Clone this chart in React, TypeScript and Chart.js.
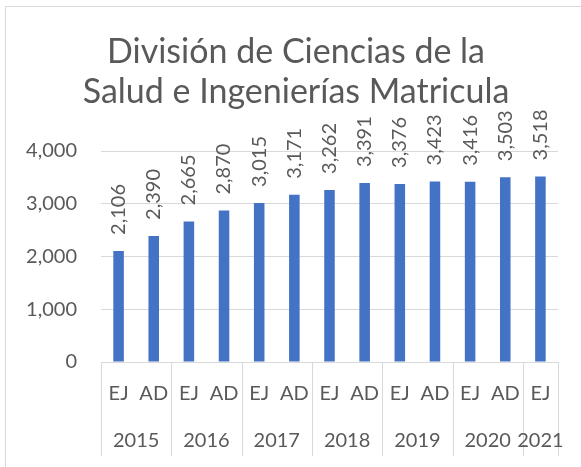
import { useEffect, useRef } from 'react';
import { Chart, registerables } from 'chart.js';

Chart.register(...registerables);

const titleLines = ['División de Ciencias de la', 'Salud e Ingenierías Matricula'];
const periods = ['EJ', 'AD', 'EJ', 'AD', 'EJ', 'AD', 'EJ', 'AD', 'EJ', 'AD', 'EJ', 'AD', 'EJ'];
const periodYears = ['2015', '2015', '2016', '2016', '2017', '2017', '2018', '2018', '2019', '2019', '2020', '2020', '2021'];
const enrollment = [2106, 2390, 2665, 2870, 3015, 3171, 3262, 3391, 3376, 3423, 3416, 3503, 3518];
const yMax = 4000;
const yStep = 1000;

const FONT = 'Lato';
const TEXT = '#595959';
const GRID = '#d9d9d9';
const BAR = '#4472C4';

const fmt = (v: number) => v.toLocaleString('en-US');

const chartTitle = {
  id: 'chartTitle',
  afterDraw(chart: any) {
    const ctx = chart.ctx;
    ctx.save();
    ctx.font = `34px ${FONT}`;
    ctx.fillStyle = TEXT;
    ctx.textAlign = 'center';
    ctx.textBaseline = 'alphabetic';
    titleLines.forEach((line, i) => {
      ctx.fillText(line, 296, 63 + i * 40);
    });
    ctx.restore();
  },
};

const valueLabels = {
  id: 'valueLabels',
  afterDatasetsDraw(chart: any) {
    const ctx = chart.ctx;
    const meta = chart.getDatasetMeta(0);
    ctx.save();
    ctx.font = `20px ${FONT}`;
    ctx.fillStyle = TEXT;
    ctx.textAlign = 'left';
    ctx.textBaseline = 'middle';
    meta.data.forEach((bar: any, i: number) => {
      const { x, y } = bar.getProps(['x', 'y'], true);
      ctx.save();
      ctx.translate(x, y - 16);
      ctx.rotate(-Math.PI / 2);
      ctx.fillText(fmt(enrollment[i]), 0, 0);
      ctx.restore();
    });
    ctx.restore();
  },
};

const groupAxis = {
  id: 'groupAxis',
  afterDraw(chart: any) {
    const { ctx, chartArea } = chart;
    const x = chart.scales.x;
    const n = periods.length;
    const step = x.getPixelForValue(1) - x.getPixelForValue(0);
    const edge = (i: number) => x.getPixelForValue(i) - step / 2;
    const bottom = chartArea.bottom;
    ctx.save();
    ctx.strokeStyle = GRID;
    ctx.lineWidth = 1;
    const bounds: number[] = [0];
    for (let i = 1; i < n; i++) if (periodYears[i] !== periodYears[i - 1]) bounds.push(i);
    bounds.push(n);
    bounds.forEach((b) => {
      const px = Math.round(edge(b)) + 0.5;
      ctx.beginPath();
      ctx.moveTo(px, bottom);
      ctx.lineTo(px, bottom + 94);
      ctx.stroke();
    });
    ctx.fillStyle = TEXT;
    ctx.font = `20px ${FONT}`;
    ctx.textAlign = 'center';
    ctx.textBaseline = 'middle';
    periods.forEach((p, i) => {
      ctx.fillText(p, x.getPixelForValue(i), bottom + 32);
    });
    for (let k = 0; k < bounds.length - 1; k++) {
      const a = bounds[k];
      const b = bounds[k + 1];
      const cx = (edge(a) + edge(b)) / 2;
      ctx.fillText(periodYears[a], cx, bottom + 79);
    }
    ctx.restore();
  },
};

export default function App() {
  const ref = useRef<HTMLCanvasElement | null>(null);

  useEffect(() => {
    if (!ref.current) return;
    const chart = new Chart(ref.current, {
      type: 'bar',
      data: {
        labels: periods.map((p, i) => `${p} ${periodYears[i]}`),
        datasets: [
          {
            data: enrollment,
            backgroundColor: BAR,
            borderWidth: 0,
            barPercentage: 0.3,
            categoryPercentage: 1,
          },
        ],
      },
      options: {
        responsive: false,
        animation: false,
        devicePixelRatio: 1,
        layout: { padding: { left: 0, right: 23, top: 151, bottom: 0 } },
        plugins: {
          legend: { display: false },
          tooltip: { enabled: false },
          title: { display: false },
        },
        scales: {
          x: {
            grid: { display: false },
            border: { display: false },
            ticks: { display: false },
            afterFit: (s: any) => {
              s.height = 105;
            },
          },
          y: {
            min: 0,
            max: yMax,
            border: { display: false },
            grid: { color: GRID, lineWidth: 1, drawTicks: false },
            ticks: {
              stepSize: yStep,
              padding: 24,
              color: TEXT,
              font: { family: FONT, size: 20 },
              callback: (v: any) => fmt(Number(v)),
            },
            afterFit: (s: any) => {
              s.width = 101;
            },
          },
        },
      },
      plugins: [valueLabels, groupAxis, chartTitle],
    });
    return () => chart.destroy();
  }, []);

  return (
    <div
      style={{
        position: 'fixed',
        left: 0,
        top: 0,
        width: 581,
        height: 467,
        overflow: 'hidden',
        background: '#fff',
      }}
    >
      <div
        style={{
          position: 'absolute',
          left: 5,
          top: 6,
          width: 700,
          height: 600,
          border: `1px solid ${GRID}`,
        }}
      />
      <canvas
        ref={ref}
        width={581}
        height={467}
        style={{ position: 'absolute', left: 0, top: 0, width: 581, height: 467 }}
      />
    </div>
  );
}
